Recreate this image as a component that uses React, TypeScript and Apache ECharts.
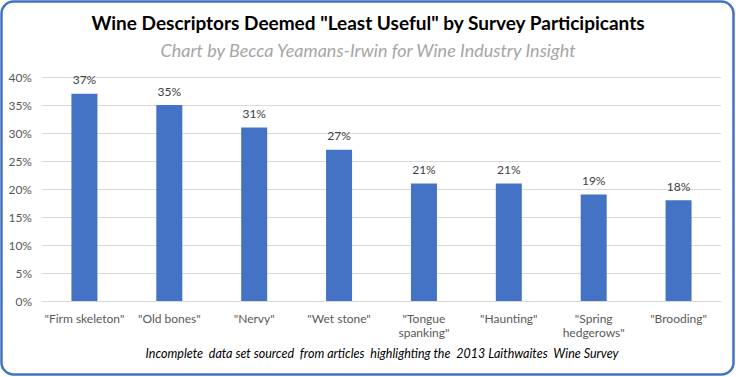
import React, { useEffect, useRef } from "react";
import * as echarts from "echarts";

const categories = [
  '"Firm skeleton"',
  '"Old bones"',
  '"Nervy"',
  '"Wet stone"',
  '"Tongue\nspanking"',
  '"Haunting"',
  '"Spring\nhedgerows"',
  '"Brooding"',
];
const values = [0.37, 0.35, 0.31, 0.27, 0.21, 0.21, 0.19, 0.18];
const yTicks = { min: 0, max: 0.4, interval: 0.05 };

const titleText = 'Wine Descriptors Deemed "Least Useful" by Survey Participicants';
const subtitleText = "Chart by Becca Yeamans-Irwin for Wine Industry Insight";
const footText = "Incomplete  data set sourced  from articles  highlighting the  2013 Laithwaites  Wine Survey";

export default function App() {
  const ref = useRef<HTMLDivElement>(null);
  useEffect(() => {
    document.body.style.margin = "0";
    const chart = echarts.init(ref.current!, null, { renderer: "svg" });
    chart.setOption({
      animation: false,
      backgroundColor: "#ffffff",
      textStyle: { fontFamily: "Lato" },
      grid: { left: 42, right: 15, top: 77, bottom: 76 },
      xAxis: {
        type: "category",
        data: categories,
        axisLine: { lineStyle: { color: "#d9d9d9" } },
        axisTick: { show: false },
        axisLabel: { color: "#595959", fontSize: 12, interval: 0, lineHeight: 14, margin: 10, fontFamily: "Lato" },
      },
      yAxis: {
        type: "value",
        min: yTicks.min,
        max: yTicks.max,
        interval: yTicks.interval,
        axisLine: { show: false },
        axisTick: { show: false },
        splitLine: { lineStyle: { color: "#d9d9d9" } },
        axisLabel: {
          color: "#595959",
          fontSize: 12,
          margin: 10,
          formatter: (v: number) => Math.round(v * 100) + "%",
        },
      },
      series: [
        {
          type: "bar",
          data: values,
          barWidth: 26,
          itemStyle: { color: "#4472c4" },
          label: {
            show: true,
            position: "top",
            distance: 8,
            color: "#404040",
            fontSize: 12,
            formatter: (p: any) => Math.round(p.value * 100) + "%",
          },
        },
      ],
      graphic: [
        {
          type: "rect",
          shape: { x: 1.5, y: 1.5, width: 732, height: 373, r: 12 },
          style: { fill: "none", stroke: "#4472c4", lineWidth: 2.5 },
          z: 100,
        },
        {
          type: "text",
          x: 368,
          y: 22,
          style: {
            text: titleText,
            fill: "#000000",
            font: "bold 19px Lato",
            textAlign: "center",
            textVerticalAlign: "middle",
          },
        },
        {
          type: "text",
          x: 368,
          y: 50,
          style: {
            text: subtitleText,
            fill: "#a6a6a6",
            font: "italic 18px Lato",
            textAlign: "center",
            textVerticalAlign: "middle",
          },
        },
        {
          type: "text",
          x: 382,
          y: 353,
          style: {
            text: footText,
            fill: "#000000",
            font: "italic 12.5px Lato",
            textAlign: "center",
            textVerticalAlign: "middle",
          },
        },
      ],
    });
    return () => chart.dispose();
  }, []);
  return <div ref={ref} style={{ width: 736, height: 377 }} />;
}
